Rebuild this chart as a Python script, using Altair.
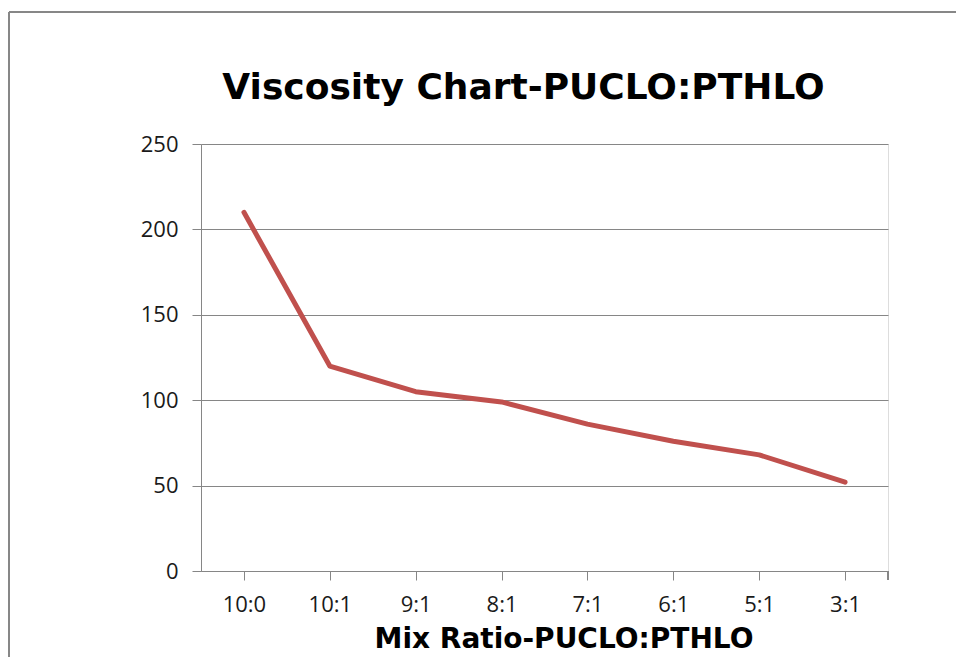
import altair as alt
import pandas as pd

ratios = ["10:0", "10:1", "9:1", "8:1", "7:1", "6:1", "5:1", "3:1"]
viscosity = [210, 120, 105, 99, 86, 76, 68, 52]
chart_title = ["Viscosity Chart-PUCLO:PTHLO"]

df = pd.DataFrame({"ratio": ratios, "viscosity": viscosity})
title_df = pd.DataFrame({"t": chart_title})

GRID = "#868686"
W, H = 687, 427
PAD_R = 68

line = alt.Chart(df).mark_line(color="#C0504D", strokeWidth=5, strokeCap="round", strokeJoin="round").encode(
    x=alt.X("ratio:N", sort=ratios,
            scale=alt.Scale(paddingInner=0, paddingOuter=0),
            axis=alt.Axis(title="Mix Ratio-PUCLO:PTHLO", labelAngle=0, bandPosition=0,
                          tickSize=9, tickColor=GRID, domainColor=GRID, labelPadding=14,
                          labelFont="Open Sans", labelFontSize=22, labelColor="#1a1a1a",
                          titleFont="DejaVu Sans", titleFontSize=28, titleFontWeight="bold",
                          titleColor="#000000", titlePadding=10, titleX=W / 2 + 19,
                          grid=False)),
    y=alt.Y("viscosity:Q",
            scale=alt.Scale(domain=[0, 250], nice=False),
            axis=alt.Axis(title=None, values=[0, 50, 100, 150, 200, 250],
                          tickSize=9, tickColor=GRID, domainColor=GRID, gridColor=GRID,
                          labelPadding=14, labelFont="Open Sans", labelFontSize=22,
                          labelColor="#1a1a1a")),
)

# chart title as a text mark
title_mark = alt.Chart(title_df).mark_text(
    font="DejaVu Sans", fontSize=36, fontWeight="bold", color="#000000",
    align="center", baseline="alphabetic"
).encode(text="t:N", x=alt.value(W / 2 - 21), y=alt.value(-45))

# right-end tick of the category axis
end_tick = alt.Chart(df).mark_rule(color=GRID, strokeWidth=1).encode(
    x=alt.value(W), y=alt.value(H), y2=alt.value(H + 9)
)

# chart-area border (Excel frame)
border_left = alt.Chart(df).mark_rule(color="#878787", strokeWidth=2).encode(
    x=alt.value(-192), y=alt.value(-132), y2=alt.value(H + 86)
)
border_top = alt.Chart(df).mark_rule(color="#878787", strokeWidth=2).encode(
    x=alt.value(-192), x2=alt.value(W + PAD_R), y=alt.value(-132)
)

chart = alt.layer(border_left, border_top, title_mark, line, end_tick).properties(
    width=W, height=H,
    autosize=alt.AutoSizeParams(type="none"),
    padding={"left": 193, "top": 136, "right": PAD_R, "bottom": 86},
).configure_view(stroke=None).configure(background="white")

chart.save("out.html", embed_options={"renderer": "svg", "actions": False})
